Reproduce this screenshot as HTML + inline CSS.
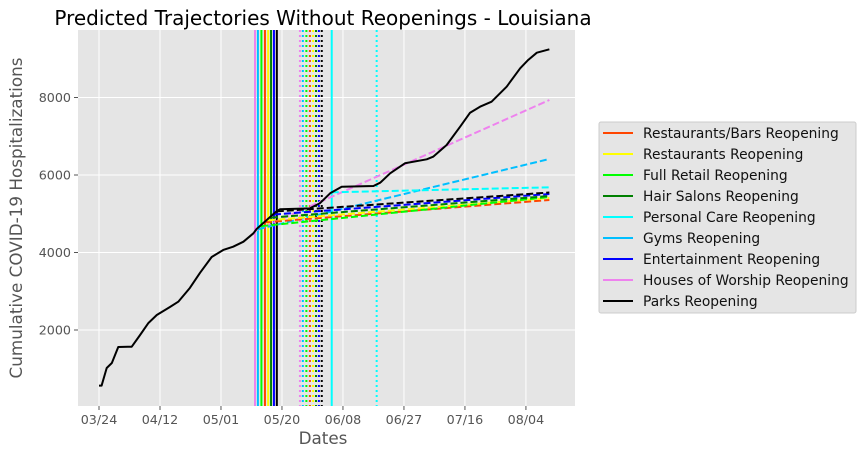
<!DOCTYPE html>
<html><head><meta charset="utf-8"><style>
body{margin:0;background:#fff;font-family:"Liberation Sans","DejaVu Sans",sans-serif}
svg text{font-family:"DejaVu Sans","Liberation Sans",sans-serif}
</style></head><body>
<svg id="chart" width="865" height="457" viewBox="0 0 865 457" xmlns="http://www.w3.org/2000/svg">
<rect x="78" y="30" width="497" height="376" fill="#e5e5e5"/>
<g id="grid"></g><g id="vlines"></g><g id="proj"></g><g id="obs"></g><g id="axes"></g>
<text x="323" y="25" text-anchor="middle" font-size="20" fill="#000">Predicted Trajectories Without Reopenings - Louisiana</text>
<text x="323" y="444" text-anchor="middle" font-size="16.8" fill="#555">Dates</text>
<text transform="translate(22,218) rotate(-90)" text-anchor="middle" font-size="16.8" fill="#555">Cumulative COVID-19 Hospitalizations</text>
<g id="legend"></g>
</svg>
<script>
// observed data: day offset from 03/24, cumulative hospitalizations
const obsDays=[0,0.8,2.4,4,6,10.2,12.8,15.4,18,22.1,24.7,28.3,31.5,35.1,38.7,41.8,45,48.1,49.1,55.4,56.4,65.7,68.8,72,75.6,85.5,87.6,90.7,95.3,102.1,104.1,108.3,112.5,115.6,118.7,122.3,127,131.2,133.7,136.4,140.3];
const obsVals=[563,563,1019,1148,1561,1569,1871,2181,2387,2594,2730,3084,3479,3884,4065,4150,4279,4495,4606,5071,5115,5140,5270,5528,5698,5716,5801,6044,6302,6405,6472,6774,7246,7607,7762,7891,8279,8753,8968,9156,9244];
const catNames=["Restaurants/Bars Reopening","Restaurants Reopening","Full Retail Reopening","Hair Salons Reopening","Personal Care Reopening","Gyms Reopening","Entertainment Reopening","Houses of Worship Reopening","Parks Reopening"];
const catColors=["#ff4500","#ffff00","#00ff00","#008000","#00ffff","#00bfff","#0000ff","#ee82ee","#000000"];
const reopenDays=[51.7,52.7,50.6,53.6,72.5,49.5,54.5,48.6,55.4];
const projStart=[4780,4830,4680,4900,5553,4600,4980,4560,5060];
const projEnd=[5355,5406,5432,5458,5682,6413,5510,7935,5548];
const projEndDay=140.3;
const lagDays=14;
const xTicks=[0,19,38,57,76,95,114,133];
const xTickLabels=["03/24","04/12","05/01","05/20","06/08","06/27","07/16","08/04"];
const yTicks=[2000,4000,6000,8000];

const L=78,R=575,T=30,B=406;
const X=d=>99+d*3.21;
const Y=v=>407.5-v/25.806;
const NS="http://www.w3.org/2000/svg";
function mk(tag,attrs,parent){const e=document.createElementNS(NS,tag);for(const k in attrs)e.setAttribute(k,attrs[k]);document.getElementById(parent).appendChild(e);return e;}

xTicks.forEach((d,i)=>{
  const g=mk('line',{x1:X(d),x2:X(d),y1:T,y2:B,stroke:'#fff','stroke-width':1},'grid');
  
  
  const t=mk('line',{x1:X(d),x2:X(d),y1:B,y2:B+4,stroke:'#555','stroke-width':1},'axes');
  
  
  const l=mk('text',{x:X(d),y:B+18,'text-anchor':'middle','font-size':12.7,fill:'#555'},'axes');
  l.textContent=xTickLabels[i];
  
  
});
yTicks.forEach(v=>{
  const g=mk('line',{x1:L,x2:R,y1:Y(v),y2:Y(v),stroke:'#fff','stroke-width':1},'grid');
  
  
  const t=mk('line',{x1:L-4,x2:L,y1:Y(v),y2:Y(v),stroke:'#555','stroke-width':1},'axes');
  
  
  const l=mk('text',{x:L-7,y:Y(v)+4.5,'text-anchor':'end','font-size':12.7,fill:'#555'},'axes');
  l.textContent=v;
  
  
});
catNames.forEach((n,i)=>{
  const s=mk('line',{x1:X(reopenDays[i]),x2:X(reopenDays[i]),y1:T,y2:B,stroke:catColors[i],'stroke-width':2},'vlines');
  
  
  const d=mk('line',{x1:X(reopenDays[i]+lagDays),x2:X(reopenDays[i]+lagDays),y1:T,y2:B,stroke:catColors[i],'stroke-width':2,'stroke-dasharray':'2 3'},'vlines');
  
  
});
const order=[7,5,4,0,1,2,3,6,8];
order.forEach(i=>{
  const p=mk('line',{x1:X(reopenDays[i]),y1:Y(projStart[i]),x2:X(projEndDay),y2:Y(projEnd[i]),stroke:catColors[i],'stroke-width':2,'stroke-dasharray':'7 3'},'proj');
  
  
});
const o=mk('polyline',{points:obsDays.map((d,i)=>X(d)+','+Y(obsVals[i])).join(' '),fill:'none',stroke:'#000','stroke-width':2,'stroke-linejoin':'round'},'obs');



const box=mk('rect',{x:599,y:122,width:257,height:191,rx:2,fill:'#e5e5e5',stroke:'#ccc','stroke-width':1},'legend');


catNames.forEach((n,i)=>{
  const y=133+i*21;
  const ln=mk('line',{x1:603,x2:633,y1:y,y2:y,stroke:catColors[i],'stroke-width':2},'legend');
  
  
  const t=mk('text',{x:643,y:y+5,'font-size':13.8,fill:'#111'},'legend');
  t.textContent=n;
  
  
});
</script>
</body></html>
